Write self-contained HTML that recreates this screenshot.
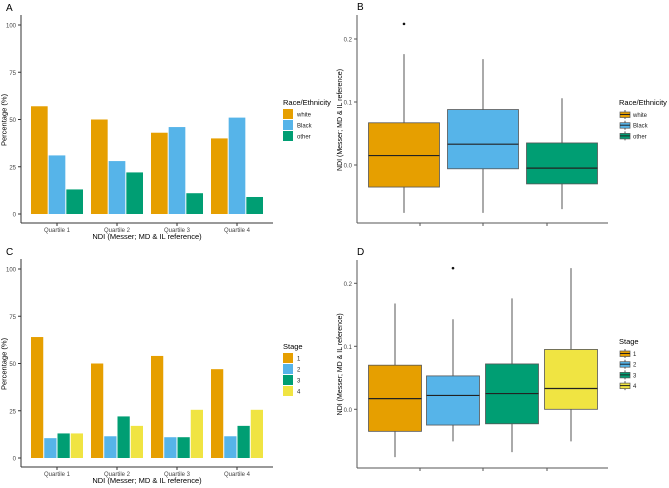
<!DOCTYPE html>
<html><head><meta charset="utf-8"><style>
body{margin:0;background:#fff}
svg{display:block;font-family:"Liberation Sans",sans-serif}
</style></head><body>
<svg id="c" width="669" height="488" viewBox="0 0 669 488"></svg>
<script>
const quartiles=["Quartile 1","Quartile 2","Quartile 3","Quartile 4"];
const pctTicks=[0,25,50,75,100];
const raceGroups=["white","Black","other"];
const raceWhite=[57,50,43,40];
const raceBlack=[31,28,46,51];
const raceOther=[13,22,11,9];
const stageGroups=["1","2","3","4"];
const stage1=[64,50,54,47];
const stage2=[10.5,11.5,11,11.5];
const stage3=[13,22,11,17];
const stage4=[13,17,25.5,25.5];
const ndiTicks=[0.0,0.1,0.2];
const ndiTickLabels=["0.0","0.1","0.2"];
// box stats: [low, q1, median, q3, high]
const boxRace=[[-0.076,-0.035,0.015,0.067,0.176],[-0.076,-0.006,0.033,0.088,0.168],[-0.07,-0.03,-0.005,0.035,0.106]];
const outRace=[[0.224],[],[]];
const boxStage=[[-0.076,-0.035,0.017,0.07,0.168],[-0.051,-0.025,0.022,0.053,0.143],[-0.068,-0.023,0.025,0.072,0.176],[-0.051,0.0,0.033,0.095,0.224]];
const outStage=[[],[0.224],[],[]];
const colors=["#E69F00","#56B4E9","#009E73","#F0E442"];

const svg=document.getElementById('c');
const NS="http://www.w3.org/2000/svg";
function mk(tag,attrs,parent,text){const e=document.createElementNS(NS,tag);for(const k in attrs)e.setAttribute(k,attrs[k]);if(text!=null)e.textContent=text;(parent||svg).appendChild(e);return e;}
function grp(name){const g=mk('g',{});return g;}

function barPanel(pre,label,top,series,groups,legTitle){
  const g=grp(pre+'-panel');
  const y0=top+189, ax=top+198;
  const ys=v=>y0-v*1.89;
  const xc=i=>57+i*60;
  const t=mk('text',{x:6,y:top-14,'font-size':10,fill:'#000'},g,label);
  
  const yl=mk('line',{x1:21,y1:top-10,x2:21,y2:ax,stroke:'#333','stroke-width':1},g);
  
  const xl=mk('line',{x1:21,y1:ax,x2:273,y2:ax,stroke:'#333','stroke-width':1},g);
  
  pctTicks.forEach(v=>{
    const tt=mk('text',{x:16,y:ys(v)+2.5,'font-size':6,fill:'#444','text-anchor':'end'},g,v);
    
    mk('line',{x1:18,y1:ys(v),x2:21,y2:ys(v),stroke:'#333'},g);
  });
  const n=series.length, gw=53, bw=gw/n;
  quartiles.forEach((q,i)=>{
    const tt=mk('text',{x:xc(i),y:ax+9,'font-size':6,fill:'#444','text-anchor':'middle'},g,q);
    
    mk('line',{x1:xc(i),y1:ax,x2:xc(i),y2:ax+3,stroke:'#333'},g);
    series.forEach((s,j)=>{
      const x=xc(i)-gw/2+j*bw;
      const r=mk('rect',{x:x+0.5,y:ys(s[i]),width:bw-1,height:y0-ys(s[i]),fill:colors[j]},g);
      
      
    });
  });
  const xt=mk('text',{x:147,y:ax+16,'font-size':7.5,fill:'#000','text-anchor':'middle'},g,'NDI (Messer; MD & IL reference)');
  
  const yt=mk('text',{x:0,y:0,'font-size':7.5,fill:'#000','text-anchor':'middle',transform:`translate(6.5,${top+95}) rotate(-90)`},g,'Percentage (%)');
  
  const lt=mk('text',{x:283,y:top+80,'font-size':7.5,fill:'#000'},g,legTitle);
  
  groups.forEach((gn,j)=>{
    const ly=top+84+j*11;
    const r=mk('rect',{x:283,y:ly,width:10,height:10,fill:colors[j]},g);
    
    const tx=mk('text',{x:297,y:ly+7.5,'font-size':6,fill:'#222'},g,gn);
    
  });
}

function boxPanel(pre,label,zero,axY,stats,outs,centers,bw,groups,legTitle,legTop){
  const g=grp(pre+'-panel');
  const ys=v=>zero-v*630;
  const t=mk('text',{x:357,y:axY-213,'font-size':10,fill:'#000'},g,label);
  
  const yl=mk('line',{x1:357,y1:axY-208,x2:357,y2:axY,stroke:'#555','stroke-width':1},g);
  
  const xl=mk('line',{x1:357,y1:axY,x2:608,y2:axY,stroke:'#555','stroke-width':1},g);
  
  ndiTicks.forEach((v,i)=>{
    const tt=mk('text',{x:352,y:ys(v)+2.5,'font-size':6,fill:'#444','text-anchor':'end'},g,ndiTickLabels[i]);
    
    mk('line',{x1:354,y1:ys(v),x2:357,y2:ys(v),stroke:'#555'},g);
  });
  [420,483,547].forEach(x=>mk('line',{x1:x,y1:axY,x2:x,y2:axY+3,stroke:'#555'},g));
  stats.forEach((s,i)=>{
    const cx=centers[i];
    const bg=mk('g',{},g);
    mk('line',{x1:cx,y1:ys(s[0]),x2:cx,y2:ys(s[1]),stroke:'#555'},bg);
    mk('line',{x1:cx,y1:ys(s[3]),x2:cx,y2:ys(s[4]),stroke:'#555'},bg);
    mk('rect',{x:cx-bw/2,y:ys(s[3]),width:bw,height:ys(s[1])-ys(s[3]),fill:colors[i],stroke:'#555','stroke-width':0.8},bg);
    mk('line',{x1:cx-bw/2,y1:ys(s[2]),x2:cx+bw/2,y2:ys(s[2]),stroke:'#222','stroke-width':1.2},bg);
    outs[i].forEach(o=>{const c=mk('circle',{cx:cx,cy:ys(o),r:1.3,fill:'#111'},bg);});
  });
  const yt=mk('text',{x:0,y:0,'font-size':7,fill:'#000','text-anchor':'middle',transform:`translate(342,${zero-45}) rotate(-90)`},g,'NDI (Messer; MD & IL reference)');
  
  const lt=mk('text',{x:619,y:legTop,'font-size':7.5,fill:'#000'},g,legTitle);
  
  groups.forEach((gn,j)=>{
    const ly=legTop+5+j*10.7;
    const lg=mk('g',{},g);
    mk('line',{x1:625,y1:ly,x2:625,y2:ly+9,stroke:'#555'},lg);
    mk('rect',{x:620,y:ly+2,width:10,height:5.5,fill:colors[j],stroke:'#555','stroke-width':0.7},lg);
    mk('line',{x1:620,y1:ly+4.5,x2:630,y2:ly+4.5,stroke:'#222'},lg);
    mk('text',{x:633,y:ly+7,'font-size':6,fill:'#222'},lg,gn);
  });
}

barPanel('panel-a','A',25,[raceWhite,raceBlack,raceOther],raceGroups,'Race/Ethnicity');
barPanel('panel-c','C',269,[stage1,stage2,stage3,stage4],stageGroups,'Stage');
boxPanel('panel-b','B',165,223,boxRace,outRace,[404,483,562],71,raceGroups,'Race/Ethnicity',105);
boxPanel('panel-d','D',409.3,468,boxStage,outStage,[395,453,512,571],53,stageGroups,'Stage',344);
</script>
</body></html>
